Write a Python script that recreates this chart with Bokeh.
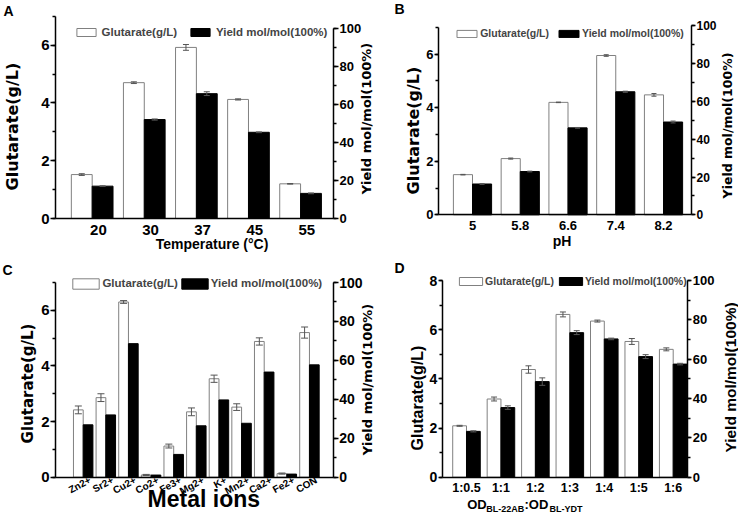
import math
import numpy as np
from bokeh.plotting import figure
from bokeh.models import (Range1d, LinearAxis, SingleIntervalTicker, FixedTicker,
                          Whisker, TeeHead, ColumnDataSource, Legend, LegendItem, Label)
from bokeh.layouts import row, column
from bokeh.embed import file_html
from bokeh.resources import INLINE

# ---------------- data ----------------
temp_labels = ["20", "30", "37", "45", "55"]
temp_glutarate = [1.52, 4.70, 5.92, 4.12, 1.20]
temp_glutarate_err = [0.03, 0.03, 0.10, 0.02, 0.01]
temp_yield = [17.0, 52.0, 65.6, 45.3, 13.2]
temp_yield_err = [0.2, 0.3, 1.0, 0.2, 0.2]

ph_labels = ["5", "5.8", "6.6", "7.4", "8.2"]
ph_glutarate = [1.50, 2.10, 4.20, 5.95, 4.48]
ph_glutarate_err = [0.01, 0.02, 0.01, 0.03, 0.05]
ph_yield = [16.3, 22.9, 46.0, 65.1, 49.1]
ph_yield_err = [0.2, 0.2, 0.2, 0.3, 0.5]

metal_labels = ["Zn2+", "Sr2+", "Cu2+", "Co2+", "Fe3+", "Mg2+", "K+", "Mn2+", "Ca2+", "Fe2+", "CON"]
metal_glutarate = [2.42, 2.86, 6.30, 0.08, 1.12, 2.35, 3.54, 2.52, 4.88, 0.13, 5.20]
metal_glutarate_err = [0.14, 0.14, 0.05, 0.02, 0.07, 0.14, 0.13, 0.12, 0.13, 0.02, 0.20]
metal_yield = [26.9, 32.0, 68.6, 1.1, 11.7, 26.4, 39.7, 27.7, 54.0, 1.6, 57.7]

ratio_labels = ["1:0.5", "1:1", "1:2", "1:3", "1:4", "1:5", "1:6"]
ratio_glutarate = [2.09, 3.18, 4.38, 6.62, 6.35, 5.52, 5.20]
ratio_glutarate_err = [0.02, 0.08, 0.15, 0.10, 0.04, 0.12, 0.06]
ratio_yield = [23.3, 35.4, 48.6, 73.5, 70.3, 61.3, 57.5]
ratio_yield_err = [0.3, 0.9, 1.9, 1.0, 0.4, 1.0, 0.4]

glut_title = "Glutarate(g/L)"
yield_title = "Yield mol/mol(100%)"

LS = "Liberation Sans"
DV = "DejaVu Sans"
GRAY = "#808080"
ERR = "#555555"


def style_axis(ax, font, size, tick_out=5):
    ax.axis_line_color = "black"
    ax.axis_line_width = 1.5
    ax.major_tick_line_color = "black"
    ax.major_tick_line_width = 1.5
    ax.minor_tick_line_color = "black"
    ax.minor_tick_line_width = 1.5
    ax.major_tick_in = 0
    ax.major_tick_out = tick_out
    ax.minor_tick_in = 0
    ax.minor_tick_out = 3
    ax.major_label_text_font = font
    ax.major_label_text_font_size = f"{size}px"
    ax.major_label_text_font_style = "bold"
    ax.major_label_text_color = "black"
    ax.major_label_standoff = 1


def add_text(p, c, text, page_xy, font, size, angle=0.0, align="center", baseline="middle"):
    ox, oy = c["origin"]
    sx = page_xy[0] - ox
    sy = c["h"] - (page_xy[1] - oy)
    p.add_layout(Label(x=sx, y=sy, x_units="screen", y_units="screen", text=text,
                       text_font=font, text_font_size=f"{size}px", text_font_style="bold",
                       text_color="black", angle=angle, text_align=align,
                       text_baseline=baseline))


def make_panel(letter, labels, glut, glut_err, yld, yld_err, c):
    W, H = c["w"], c["h"]
    ox, oy = c["origin"]
    L, R, T, B = [v - o for v, o in zip(c["box"], (ox, ox, oy, oy))]
    xr0, xr1 = c["xr"]
    sx = (R - L) / (xr1 - xr0)
    syl = (B - T) / c["yl_end"]
    syr = (B - T) / c["yr_end"]
    p = figure(width=W, height=H, output_backend="svg", toolbar_location=None,
               x_range=Range1d(xr0 - L / sx, xr1 + (W - R) / sx),
               y_range=Range1d(-(H - B) / syl, c["yl_end"] + T / syl),
               min_border=0)
    p.title.visible = False
    p.extra_y_ranges = {"yield": Range1d(-(H - B) / syr, c["yr_end"] + T / syr)}
    p.outline_line_color = None
    p.xgrid.visible = False
    p.ygrid.visible = False

    n = len(labels)
    idx = np.arange(n, dtype=float)
    bw = c["bar_w"]
    data = dict(xw=idx - bw / 2, xb=idx + bw / 2, g=glut, y=yld)
    if glut_err is not None:
        data["g_lo"] = [a - e for a, e in zip(glut, glut_err)]
        data["g_hi"] = [a + e for a, e in zip(glut, glut_err)]
    if yld_err is not None:
        data["y_lo"] = [a - e for a, e in zip(yld, yld_err)]
        data["y_hi"] = [a + e for a, e in zip(yld, yld_err)]
    src = ColumnDataSource(data)

    rw = p.vbar(x="xw", top="g", bottom=0, width=bw, source=src,
                fill_color="white", line_color=GRAY, line_width=1)
    rb = p.vbar(x="xb", top="y", bottom=0, width=bw, source=src,
                fill_color="black", line_color="black", line_width=1,
                y_range_name="yield")
    cap = c["cap"]
    if glut_err is not None:
        p.add_layout(Whisker(source=src, base="xw", lower="g_lo", upper="g_hi",
                             line_color=ERR, line_width=1, level="overlay",
                             upper_head=TeeHead(size=cap, line_color=ERR, line_width=1),
                             lower_head=TeeHead(size=cap, line_color=ERR, line_width=1)))
    if yld_err is not None:
        p.add_layout(Whisker(source=src, base="xb", lower="y_lo", upper="y_hi",
                             line_color=ERR, line_width=1, level="overlay",
                             y_range_name="yield",
                             upper_head=TeeHead(size=cap, line_color=ERR, line_width=1),
                             lower_head=TeeHead(size=cap, line_color=ERR, line_width=1)))

    # x axis (drawn at y = 0)
    xa = p.xaxis[0]
    style_axis(xa, LS, c["xsize"])
    xa.major_tick_out = 0
    xa.minor_tick_out = 0
    xa.fixed_location = 0
    xa.bounds = (xr0, xr1)
    ticks = idx + c["lab_off"]
    xa.ticker = FixedTicker(ticks=[float(t) for t in ticks])
    xa.major_label_overrides = {float(t): lab for t, lab in zip(ticks, labels)}
    xa.major_label_standoff = c["x_standoff"]
    if c.get("xrot"):
        xa.major_label_orientation = c["xrot"]

    # left axis
    ya = p.yaxis[0]
    style_axis(ya, LS, c["ysize"], c["tick_out"])
    ya.ticker = SingleIntervalTicker(interval=c["yl_tick"], num_minor_ticks=2)
    ya.bounds = (0, c["yl_top"])
    ya.fixed_location = xr0

    # right axis
    ra = LinearAxis(y_range_name="yield",
                    ticker=SingleIntervalTicker(interval=20, num_minor_ticks=2),
                    bounds=(0, 100), fixed_location=xr1)
    style_axis(ra, LS, c["rsize"], c["tick_out"])
    p.add_layout(ra, "right")

    # legend
    lx, lcy = c["leg_pos"]
    lh = c["leg_h"]
    lg = Legend(items=[LegendItem(label="Glutarate(g/L)", renderers=[rw]),
                       LegendItem(label="Yield mol/mol(100%)", renderers=[rb])],
                orientation="horizontal",
                location=(lx - ox, H - (lcy - oy) - lh / 2),
                glyph_width=c["leg_gw"], glyph_height=c["leg_gh"],
                label_standoff=c["leg_standoff"], spacing=c["leg_spacing"],
                padding=0, margin=0, border_line_color=None,
                background_fill_alpha=0, label_text_font=LS,
                label_text_font_size=f"{c['leg_size']}px",
                label_text_font_style="bold", label_height=c["leg_gh"])
    p.add_layout(lg)

    # axis titles and panel letter
    add_text(p, c, glut_title, c["lt_pos"], c["vfont"], c["lt_size"], angle=math.pi / 2)
    add_text(p, c, yield_title, c["rt_pos"], c["vfont"], c["rt_size"], angle=math.pi / 2)
    add_text(p, c, letter, c["letter_pos"], LS, 14, align="left", baseline="top")
    return p


cfgA = dict(w=385, h=257, origin=(0, 0), box=(55, 333, 15.7, 218),
            xr=(-0.704, 4.632), yl_end=7, yl_top=7, yl_tick=2, yr_end=106.3,
            bar_w=0.40, lab_off=0.12, cap=6, xsize=15, x_standoff=6,
            ysize=15, rsize=13, tick_out=5, vfont=DV,
            lt_size=16, lt_pos=(11.5, 126), rt_size=13, rt_pos=(366, 118),
            leg_pos=(73.6, 31), leg_h=13, leg_gw=24, leg_gh=10, leg_standoff=4,
            leg_spacing=11, leg_size=11.5, letter_pos=(3, 2.4))

cfgB = dict(w=353, h=257, origin=(385, 0), box=(438, 691, 25.3, 214.3),
            xr=(-0.712, 4.586), yl_end=7.06, yl_top=7, yl_tick=2, yr_end=100,
            bar_w=0.40, lab_off=0.0, cap=5, xsize=13, x_standoff=6,
            ysize=13, rsize=12, tick_out=4, vfont=DV,
            lt_size=16, lt_pos=(412.7, 130), rt_size=12.5, rt_pos=(726.5, 125),
            leg_pos=(454.2, 33), leg_h=12, leg_gw=25, leg_gh=9, leg_standoff=1,
            leg_spacing=7, leg_size=10.5, letter_pos=(394, 0.5))

cfgC = dict(w=385, h=258, origin=(0, 257), box=(55, 332.7, 282, 476.7),
            xr=(-1.224, 11.05), yl_end=7, yl_top=7, yl_tick=2, yr_end=100,
            bar_w=0.43, lab_off=0.3, cap=7, xsize=10, x_standoff=2, xrot=0.5,
            ysize=15, rsize=14, tick_out=5, vfont=DV,
            lt_size=15, lt_pos=(27, 383), rt_size=13, rt_pos=(366.5, 379),
            leg_pos=(69.4, 283), leg_h=13, leg_gw=33, leg_gh=13, leg_standoff=0,
            leg_spacing=0, leg_size=11.5, letter_pos=(2, 261.4))

cfgD = dict(w=353, h=258, origin=(385, 257), box=(441.7, 687.3, 280, 476.7),
            xr=(-0.705, 6.424), yl_end=8, yl_top=8, yl_tick=2, yr_end=100,
            bar_w=0.40, lab_off=0.0, cap=6, xsize=12.5, x_standoff=4,
            ysize=14, rsize=13, tick_out=4, vfont=LS,
            lt_size=16, lt_pos=(417, 397.5), rt_size=15.5, rt_pos=(729.5, 377),
            leg_pos=(456.1, 281), leg_h=12, leg_gw=29, leg_gh=10, leg_standoff=0,
            leg_spacing=2, leg_size=10.5, letter_pos=(394, 259.4))

pA = make_panel("A", temp_labels, temp_glutarate, temp_glutarate_err, temp_yield, temp_yield_err, cfgA)
pB = make_panel("B", ph_labels, ph_glutarate, ph_glutarate_err, ph_yield, ph_yield_err, cfgB)
pC = make_panel("C", metal_labels, metal_glutarate, metal_glutarate_err, metal_yield, None, cfgC)
pD = make_panel("D", ratio_labels, ratio_glutarate, ratio_glutarate_err, ratio_yield, ratio_yield_err, cfgD)

# x-axis titles
add_text(pA, cfgA, "Temperature (°C)", (211.5, 243.3), LS, 14)
add_text(pB, cfgB, "pH", (561.5, 240.5), LS, 14)
add_text(pC, cfgC, "Metal ions", (203.3, 498.5), LS, 23)
for txt, px, py, size in [("OD", 466.7, 504.0, 13), ("BL-22AB", 485.7, 508.0, 9),
                          (":OD", 524.0, 504.0, 13), ("BL-YDT", 549.0, 508.0, 9)]:
    add_text(pD, cfgD, txt, (px, py), LS, size, align="left")

layout = column(row(pA, pB), row(pC, pD))
open("out.html", "w").write(file_html(layout, INLINE))
